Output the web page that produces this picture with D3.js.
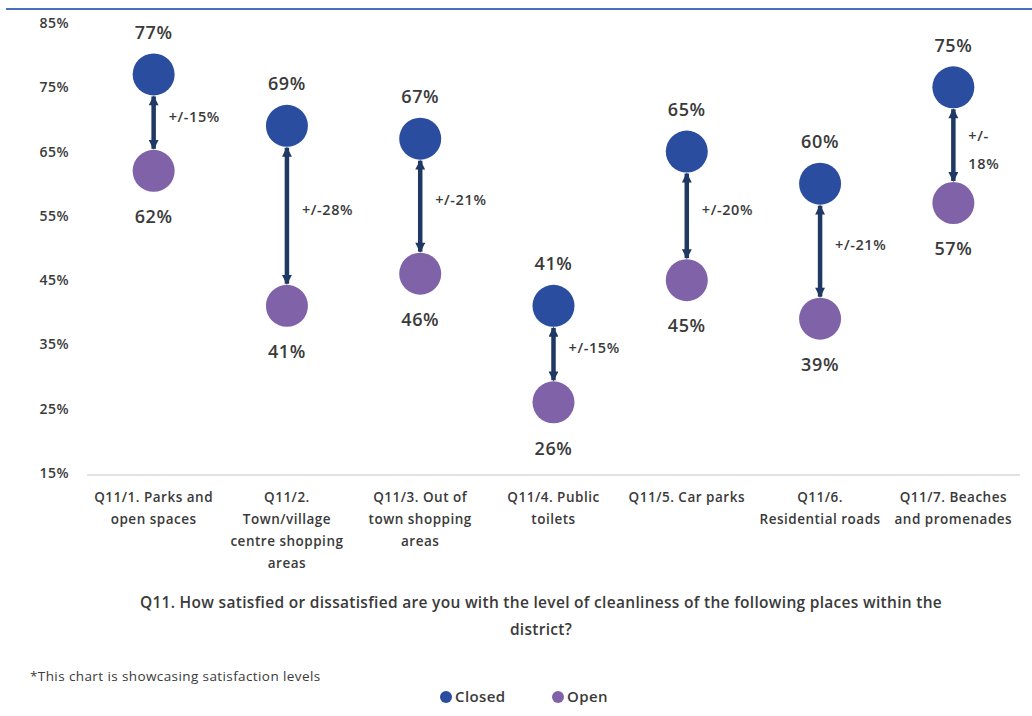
<!DOCTYPE html>
<html>
<head>
<meta charset="utf-8">
<script src="https://cdn.jsdelivr.net/npm/d3@7"></script>
<style>
  body { margin: 0; background: #fff; }
  svg { display: block; font-family: "Open Sans", "Liberation Sans", sans-serif; }
</style>
</head>
<body>
<div id="chart"></div>
<script>
const categories = [
  ["Q11/1. Parks and", "open spaces"],
  ["Q11/2.", "Town/village", "centre shopping", "areas"],
  ["Q11/3. Out of", "town shopping", "areas"],
  ["Q11/4. Public", "toilets"],
  ["Q11/5. Car parks"],
  ["Q11/6.", "Residential roads"],
  ["Q11/7. Beaches", "and promenades"]
];
const closed = [77, 69, 67, 41, 65, 60, 75];
const open = [62, 41, 46, 26, 45, 39, 57];
const gapLabels = [["+/-15%"], ["+/-28%"], ["+/-21%"], ["+/-15%"], ["+/-20%"], ["+/-21%"], ["+/-", "18%"]];
const yTicks = [15, 25, 35, 45, 55, 65, 75, 85];

const drawChart = () => {
  const width = 1032;
  const height = 716;
  const r = 21;
  const blue = "#2a4da0";
  const purple = "#8062a9";
  const navy = "#1f3864";
  const textCol = "#3a3a3a";

  const svg = d3.select("#chart").append("svg")
    .attr("width", width)
    .attr("height", height);

  const keys = categories.map((d, i) => i);
  const x = d3.scaleBand().domain(keys).range([87, 1020]);
  const y = d3.scaleLinear().domain([15, 85]).range([473, 23]);

  // top border line
  svg.append("line")
    .attr("x1", 6).attr("x2", width)
    .attr("y1", 9).attr("y2", 9)
    .attr("stroke", "#4a6fbd").attr("stroke-width", 2);

  // y axis
  const yAxis = svg.append("g")
    .attr("transform", "translate(69,0)")
    .call(d3.axisLeft(y).tickValues(yTicks).tickSize(0).tickPadding(0).tickFormat(d => d + "%"));
  yAxis.select(".domain").remove();
  yAxis.selectAll("text")
    .attr("fill", textCol)
    .style("font-size", "14px")
    .style("letter-spacing", "0.5px")
    .style("font-weight", "600")
    .style("font-family", "'Open Sans', sans-serif");

  // baseline
  svg.append("line")
    .attr("x1", x.range()[0]).attr("x2", x.range()[1])
    .attr("y1", y(15) + 2).attr("y2", y(15) + 2)
    .attr("stroke", "#d9d9d9").attr("stroke-width", 1.5);

  // arrow markers
  const defs = svg.append("defs");
  defs.append("marker")
    .attr("id", "head")
    .attr("viewBox", "0 0 10 10")
    .attr("refX", 9).attr("refY", 5)
    .attr("markerWidth", 2.4).attr("markerHeight", 2.2)
    .attr("markerUnits", "strokeWidth")
    .attr("orient", "auto-start-reverse")
    .append("path")
    .attr("d", "M0,0 L10,5 L0,10 Z")
    .attr("fill", navy);

  const cx = i => x(i) + x.bandwidth() / 2;

  // arrows
  svg.append("g").selectAll("line")
    .data(keys)
    .join("line")
    .attr("x1", i => cx(i)).attr("x2", i => cx(i))
    .attr("y1", i => y(closed[i]) + r + 1)
    .attr("y2", i => y(open[i]) - r - 1)
    .attr("stroke", navy)
    .attr("stroke-width", 4.5)
    .attr("marker-start", "url(#head)")
    .attr("marker-end", "url(#head)");

  // gap labels
  svg.append("g").selectAll("text")
    .data(keys)
    .join("text")
    .attr("fill", textCol)
    .style("font-size", "14.5px")
    .style("letter-spacing", "0.6px")
    .style("font-weight", "600")
    .each(function (i) {
      const mid = (y(closed[i]) + y(open[i])) / 2;
      d3.select(this).selectAll("tspan")
        .data(gapLabels[i])
        .join("tspan")
        .attr("x", cx(i) + 15)
        .attr("y", (d, j) => mid - 6 - (gapLabels[i].length - 1) * 3 + j * 28)
        .attr("dy", "0.35em")
        .text(d => d);
    });

  // dots
  svg.append("g").selectAll("circle")
    .data(keys)
    .join("circle")
    .attr("cx", i => cx(i))
    .attr("cy", i => y(open[i]))
    .attr("r", r)
    .attr("fill", purple);

  svg.append("g").selectAll("circle")
    .data(keys)
    .join("circle")
    .attr("cx", i => cx(i))
    .attr("cy", i => y(closed[i]))
    .attr("r", r)
    .attr("fill", blue);

  // value labels
  svg.append("g").selectAll("text")
    .data(keys)
    .join("text")
    .attr("x", i => cx(i))
    .attr("y", i => y(closed[i]) - 42)
    .attr("dy", "0.35em")
    .attr("text-anchor", "middle")
    .attr("fill", textCol)
    .style("font-size", "18px")
    .style("letter-spacing", "0.6px")
    .style("font-weight", "600")
    .text(i => closed[i] + "%");

  svg.append("g").selectAll("text")
    .data(keys)
    .join("text")
    .attr("x", i => cx(i))
    .attr("y", i => y(open[i]) + 46)
    .attr("dy", "0.35em")
    .attr("text-anchor", "middle")
    .attr("fill", textCol)
    .style("font-size", "18px")
    .style("letter-spacing", "0.6px")
    .style("font-weight", "600")
    .text(i => open[i] + "%");

  // category labels
  svg.append("g").selectAll("text")
    .data(keys)
    .join("text")
    .attr("text-anchor", "middle")
    .attr("fill", textCol)
    .style("font-size", "13.5px")
    .style("letter-spacing", "0.5px")
    .style("font-weight", "600")
    .each(function (i) {
      d3.select(this).selectAll("tspan")
        .data(categories[i])
        .join("tspan")
        .attr("x", cx(i))
        .attr("y", (d, j) => 497 + j * 22)
        .attr("dy", "0.35em")
        .text(d => d);
    });

  // caption
  svg.append("text")
    .attr("x", 541).attr("y", 603)
    .attr("dy", "0.35em")
    .attr("text-anchor", "middle")
    .attr("fill", textCol)
    .style("font-size", "15.5px")
    .style("letter-spacing", "0.3px")
    .style("font-weight", "600")
    .text("Q11. How satisfied or dissatisfied are you with the level of cleanliness of the following places within the");
  svg.append("text")
    .attr("x", 541).attr("y", 630)
    .attr("dy", "0.35em")
    .attr("text-anchor", "middle")
    .attr("fill", textCol)
    .style("font-size", "15.5px")
    .style("letter-spacing", "0.3px")
    .style("font-weight", "600")
    .text("district?");

  // footnote
  svg.append("text")
    .attr("x", 30).attr("y", 676)
    .attr("dy", "0.35em")
    .attr("fill", textCol)
    .style("font-size", "13.5px")
    .style("letter-spacing", "0.4px")
    .text("*This chart is showcasing satisfaction levels");

  // legend
  const legendItems = [["Closed", blue, 446], ["Open", purple, 558]];
  const legend = svg.append("g");
  legend.selectAll("circle")
    .data(legendItems)
    .join("circle")
    .attr("cx", d => d[2]).attr("cy", 697)
    .attr("r", 6)
    .attr("fill", d => d[1]);
  legend.selectAll("text")
    .data(legendItems)
    .join("text")
    .attr("x", d => d[2] + 9).attr("y", 697)
    .attr("dy", "0.35em")
    .attr("fill", textCol)
    .style("font-size", "15px")
    .style("letter-spacing", "0.4px")
    .style("font-weight", "600")
    .text(d => d[0]);
};

drawChart();
</script>
</body>
</html>
